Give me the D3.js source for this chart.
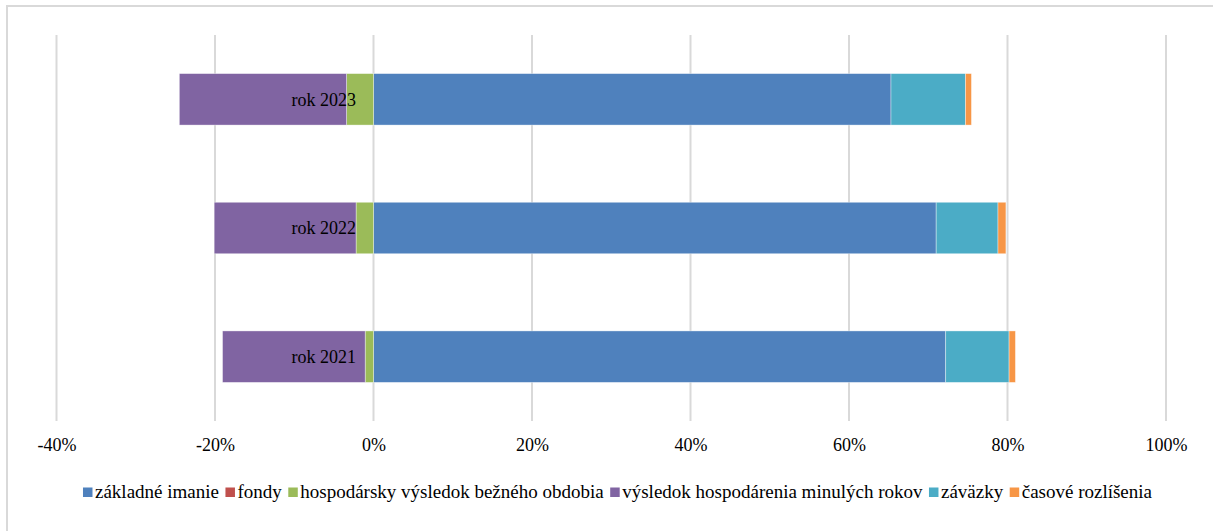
<!DOCTYPE html>
<html>
<head>
<meta charset="utf-8">
<script src="https://cdn.jsdelivr.net/npm/d3@7"></script>
<style>
  html, body { margin: 0; padding: 0; background: #fff; }
  svg { display: block; font-family: "Liberation Serif", "Times New Roman", serif; }
</style>
</head>
<body>
<svg id="chart" width="1213" height="531"></svg>
<script>
// Categories (top to bottom)
const years = ["rok 2023", "rok 2022", "rok 2021"];

// Series names and colours
const seriesNames = [
  "základné imanie",
  "fondy",
  "hospodársky výsledok bežného obdobia",
  "výsledok hospodárenia minulých rokov",
  "záväzky",
  "časové rozlíšenia"
];
const seriesColors = ["#4F81BD", "#C0504D", "#9BBB59", "#8064A2", "#4BACC6", "#F79646"];

// Shares of total (%) per year, same order as years
const zakladneImanie    = [65.3, 71.0, 72.2];
const fondy             = [0.0, 0.0, 0.0];
const hospVysledokBezny = [-3.4, -2.2, -1.05];
const vysledokMinulych  = [-21.1, -17.9, -18.0];
const zavazky           = [9.4, 7.8, 8.0];
const casoveRozlisenia  = [0.75, 1.0, 0.8];

const seriesValues = [zakladneImanie, fondy, hospVysledokBezny, vysledokMinulych, zavazky, casoveRozlisenia];

const xTicks = [-40, -20, 0, 20, 40, 60, 80, 100];

const svg = d3.select("#chart");
const serif = "'Liberation Serif', 'Times New Roman', serif";

// chart frame
svg.append("path")
  .attr("d", "M7,531 V6 H1213")
  .attr("fill", "none")
  .attr("stroke", "#d9d9d9")
  .attr("stroke-width", 2);

const plot = { left: 56.5, right: 1166, top: 35, bottom: 421 };

const x = d3.scaleLinear().domain([-40, 100]).range([plot.left, plot.right]);
const y = d3.scaleBand().domain(years).range([plot.top, plot.bottom]).paddingInner(0.6).paddingOuter(0.3);

// gridlines
svg.append("g")
  .selectAll("line")
  .data(xTicks)
  .join("line")
  .attr("x1", d => x(d)).attr("x2", d => x(d))
  .attr("y1", plot.top).attr("y2", plot.bottom)
  .attr("stroke", "#d9d9d9")
  .attr("stroke-width", 2);

// tick labels via axis
const xAxis = d3.axisBottom(x).tickValues(xTicks).tickFormat(d => d + "%").tickSize(0).tickPadding(0);
const ax = svg.append("g").attr("transform", `translate(0,${plot.bottom})`).call(xAxis);
ax.attr("font-family", null).attr("font-size", null);
ax.select(".domain").remove();
ax.selectAll("text")
  .attr("y", 30)
  .attr("dy", 0)
  .attr("fill", "#000")
  .style("font-family", serif)
  .style("font-size", "18px");

// stacked bars: positives stack right from 0, negatives stack left from 0
const segs = [];
years.forEach((yr, i) => {
  let pos = 0, neg = 0;
  seriesValues.forEach((vals, s) => {
    const v = vals[i];
    if (v >= 0) {
      segs.push({ yr, s, x0: pos, x1: pos + v });
      pos += v;
    } else {
      segs.push({ yr, s, x0: neg + v, x1: neg });
      neg += v;
    }
  });
});

svg.append("g")
  .selectAll("rect")
  .data(segs.filter(d => d.x1 - d.x0 > 0))
  .join("rect")
  .attr("x", d => x(d.x0))
  .attr("width", d => x(d.x1) - x(d.x0))
  .attr("y", d => y(d.yr))
  .attr("height", y.bandwidth())
  .attr("fill", d => seriesColors[d.s])
  .attr("stroke", "rgba(255,255,255,0.5)")
  .attr("stroke-width", 0.75);

// category labels next to the zero line
svg.append("g")
  .selectAll("text")
  .data(years)
  .join("text")
  .attr("x", x(0) - 17.5)
  .attr("y", d => y(d) + y.bandwidth() / 2 + 6.4)
  .attr("text-anchor", "end")
  .attr("fill", "#000")
  .style("font-size", "18px")
  .text(d => d);

// legend, centred under the plot
const legend = svg.append("g");
let lx = 0;
seriesNames.forEach((name, i) => {
  const g = legend.append("g").attr("transform", `translate(${lx},0)`);
  g.append("rect")
    .attr("x", 0).attr("y", -10.5)
    .attr("width", 9.5).attr("height", 9.5)
    .attr("fill", seriesColors[i]);
  const t = g.append("text")
    .attr("x", 12).attr("y", 0)
    .attr("fill", "#000")
    .style("font-family", serif)
    .style("font-size", "19px")
    .text(name);
  lx += 12 + t.node().getComputedTextLength() + 6.5;
});
const legendWidth = lx - 6.5;
legend.attr("transform", `translate(${617.5 - legendWidth / 2},498)`);
</script>
</body>
</html>
